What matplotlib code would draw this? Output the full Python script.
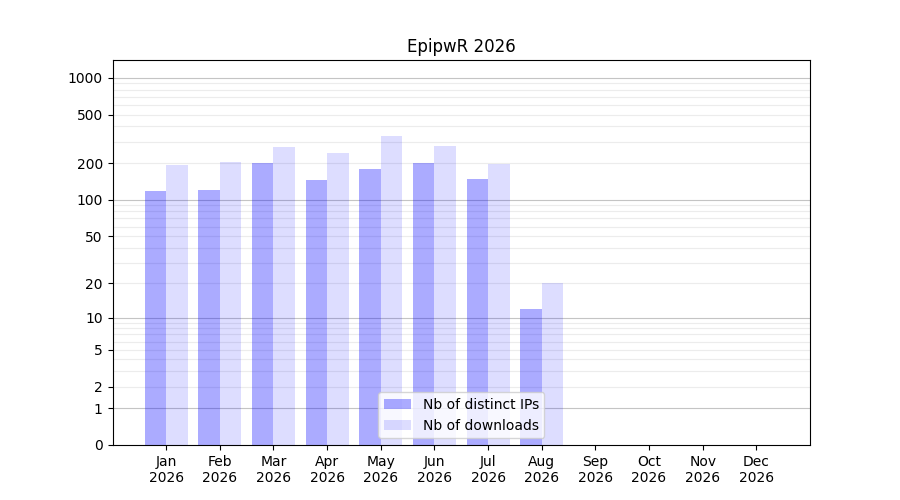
import numpy as np
import matplotlib
matplotlib.use("Agg")
import matplotlib.pyplot as plt

months = ["Jan", "Feb", "Mar", "Apr", "May", "Jun",
          "Jul", "Aug", "Sep", "Oct", "Nov", "Dec"]
year = "2026"
distinct_ips = [118, 121, 201, 146, 180, 201, 149, 12, 0, 0, 0, 0]
downloads = [195, 205, 272, 243, 335, 278, 197, 20, 0, 0, 0, 0]
ytick_values = [0, 1, 2, 5, 10, 20, 50, 100, 200, 500, 1000]


def fwd(y):
    return np.log10(np.clip(y, 0, None) + 1)


def inv(y):
    return 10 ** y - 1


fig, ax = plt.subplots(figsize=(9, 5), dpi=100)
ax.set_yscale("function", functions=(fwd, inv))

# grid lines: decades darker, in-between multiples faint
for d in [1, 10, 100, 1000]:
    ax.axhline(d, color="#c4c4c4", linewidth=0.8, zorder=0.5)
    for k in range(2, 10):
        if k * d < 1400:
            ax.axhline(k * d, color="#ececec", linewidth=0.8, zorder=0.5)

x = np.arange(len(months))
w = 0.4
ax.bar(x, distinct_ips, width=-w, align="edge", color="blue", alpha=0.33,
       label="Nb of distinct IPs", zorder=1)
ax.bar(x, downloads, width=w, align="edge", color="blue", alpha=0.135,
       label="Nb of downloads", zorder=1)

ax.set_xticks(x)
ax.set_xticklabels([f"{m}\n{year}" for m in months])
ax.set_xlim(-1, 12)

ax.set_ylim(0, 1400)
ax.set_yticks(ytick_values)
ax.set_yticklabels([str(v) for v in ytick_values])
ax.yaxis.set_minor_locator(matplotlib.ticker.NullLocator())

ax.set_title(f"EpipwR {year}")
ax.legend(loc="lower center")

fig.savefig("out.png", dpi=100)
